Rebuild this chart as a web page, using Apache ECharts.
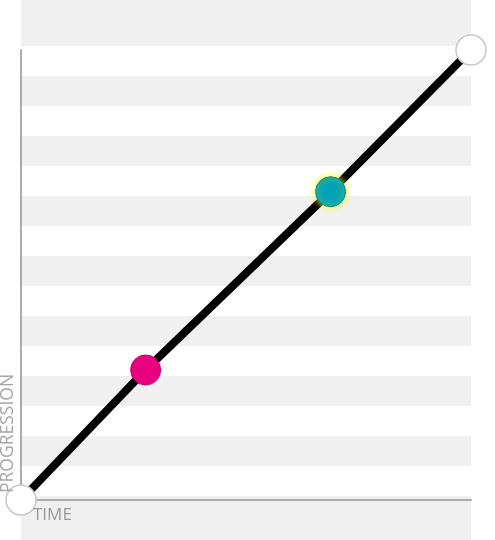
<!DOCTYPE html>
<html>
<head>
<meta charset="utf-8">
<script src="https://cdn.jsdelivr.net/npm/echarts@6/dist/echarts.min.js"></script>
<style>html,body{margin:0;padding:0;background:#fff}#c{width:495px;height:540px}</style>
</head>
<body>
<div id="c"></div>
<script>
// Data
var timeValues = [0, 27.7, 68.8, 100];
var progressionValues = [0, 28.9, 68.5, 100];
var pointKinds = ['start', 'pink', 'teal', 'end'];
var axisNames = { x: 'TIME', y: 'PROGRESSION' };

var kindStyles = {
  start: { color: '#ffffff', borderColor: '#c8c8c8', borderWidth: 1.5 },
  end: { color: '#ffffff', borderColor: '#c8c8c8', borderWidth: 1.5 },
  pink: { color: '#ea007f', borderColor: '#c8006c', borderWidth: 1 },
  teal: { color: '#00a2b6', borderColor: '#00899a', borderWidth: 1, shadowBlur: 7, shadowColor: '#ffff00' }
};

var seriesData = timeValues.map(function (t, i) {
  return { value: [t, progressionValues[i]], itemStyle: kindStyles[pointKinds[i]] };
});

var chart = echarts.init(document.getElementById('c'), null, { renderer: 'canvas' });
var hidden = { show: false };
chart.setOption({
  animation: false,
  backgroundColor: '#ffffff',
  grid: [
    { left: 21, right: 24, top: 0, bottom: 0, show: true, backgroundColor: '#f0f0f0', borderWidth: 0 },
    { left: 21, right: 24, top: 16, height: 510, show: false },
    { left: 21, right: 24, top: 50, bottom: 40, show: false }
  ],
  xAxis: [
    { gridIndex: 0, type: 'value', show: false, min: 0, max: 1 },
    { gridIndex: 1, type: 'value', show: false, min: 0, max: 1 },
    { gridIndex: 2, type: 'value', min: 0, max: 100,
      axisLine: { show: true, lineStyle: { color: '#ababab', width: 2 } },
      axisTick: hidden, axisLabel: hidden, splitLine: hidden }
  ],
  yAxis: [
    { gridIndex: 0, type: 'value', show: false, min: 0, max: 1 },
    { gridIndex: 1, type: 'value', min: 0, max: 510, interval: 30, inverse: true,
      axisLine: hidden, axisTick: hidden, axisLabel: hidden, splitLine: hidden,
      splitArea: { show: true, areaStyle: { color: ['rgba(0,0,0,0)', '#ffffff'] } } },
    { gridIndex: 2, type: 'value', min: 0, max: 100,
      axisLine: { show: true, lineStyle: { color: '#ababab', width: 2 } },
      axisTick: hidden, axisLabel: hidden, splitLine: hidden }
  ],
  series: [{
    type: 'line',
    xAxisIndex: 2,
    yAxisIndex: 2,
    data: seriesData,
    clip: false,
    symbol: 'circle',
    symbolSize: 30,
    showSymbol: true,
    lineStyle: { color: '#000000', width: 8 },
    z: 5
  }],
  graphic: [
    { type: 'text', x: 8, y: 493, rotation: Math.PI / 2, z: 10,
      style: { text: axisNames.y, fill: '#a6a6a6', font: '17.5px "Open Sans", sans-serif', textAlign: 'left', textVerticalAlign: 'middle' } },
    { type: 'text', x: 33, y: 515, z: 10,
      style: { text: axisNames.x, fill: '#9a9a9a', font: '17px "Open Sans", sans-serif', textAlign: 'left', textVerticalAlign: 'middle' } }
  ]
});
</script>
</body>
</html>
